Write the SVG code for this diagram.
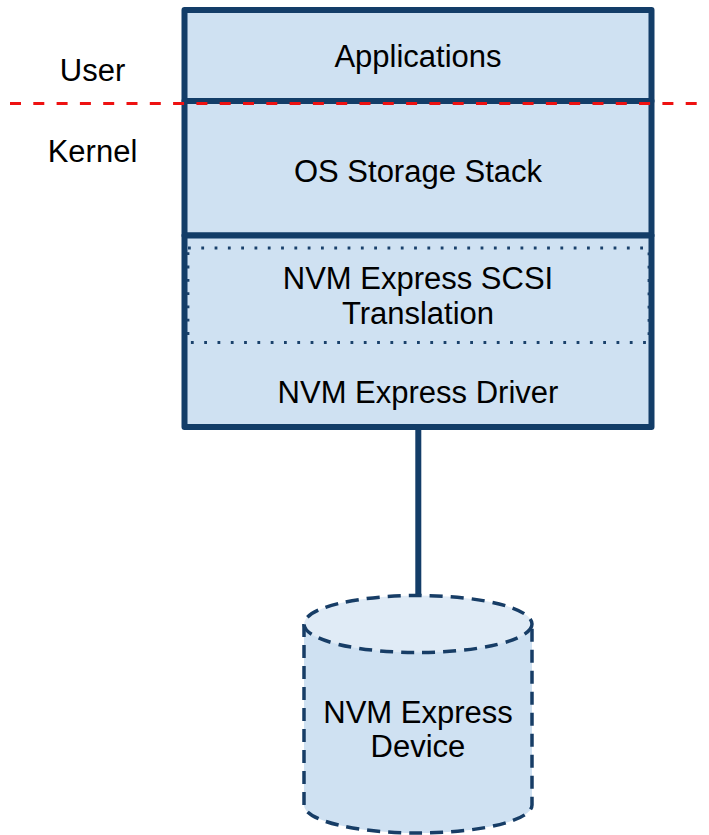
<svg xmlns="http://www.w3.org/2000/svg" width="709" height="835" viewBox="0 0 709 835">
<style>
text{font-family:"Liberation Sans",Arial,sans-serif;font-size:31px;fill:#000;text-anchor:middle}
.box{fill:#cfe1f2;stroke:#133d68;stroke-width:6;stroke-linejoin:round}
.dot{fill:none;stroke:#1a416b;stroke-width:2.8;stroke-dasharray:2.8 10.5;stroke-linecap:butt}
.cyl{fill:#cfe1f2;stroke:#173d66;stroke-width:3.5;stroke-dasharray:13 8}
</style>
<rect width="709" height="835" fill="#fff"/>
<g id="applications">
<rect class="box" x="184.5" y="10" width="467" height="91"/>
<text x="418" y="67">Applications</text>
</g>
<g id="os-storage-stack">
<rect class="box" x="184.5" y="101" width="467" height="134.5"/>
<text x="418" y="182">OS Storage Stack</text>
</g>
<g id="nvme-driver">
<rect class="box" x="184.5" y="235.5" width="467" height="191.5"/>
<text x="418" y="403">NVM Express Driver</text>
</g>
<g id="scsi-translation">
<rect class="dot" x="188" y="248" width="461" height="94.5"/>
<text x="418" y="289">NVM Express SCSI</text>
<text x="418" y="324">Translation</text>
</g>
<g id="connectors">
<line x1="418.3" y1="427" x2="418.3" y2="596" stroke="#133d68" stroke-width="6"/>
</g>
<g id="user-kernel">
<line x1="10" y1="103.5" x2="709" y2="103.5" stroke="#ee1111" stroke-width="3" stroke-dasharray="11 12.3"/>
<text x="92.5" y="81">User</text>
<text x="92.5" y="162">Kernel</text>
</g>
<g id="nvme-device">
<path class="cyl" d="M304,624 L304,805 A114,28 0 0 0 532,805 L532,624"/>
<ellipse class="cyl" cx="418" cy="624" rx="114" ry="28.5" style="fill:#e0ebf6"/>
<text x="418" y="723">NVM Express</text>
<text x="418" y="757">Device</text>
</g>
</svg>
